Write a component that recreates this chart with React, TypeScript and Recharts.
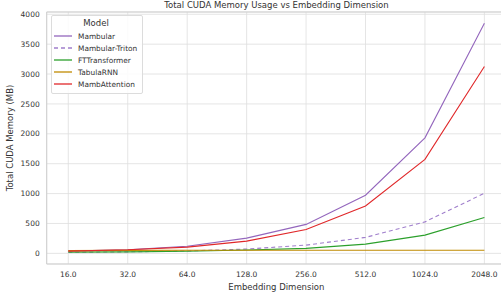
import React from "react";
import { CartesianGrid, Line, LineChart, ReferenceLine, XAxis, YAxis } from "recharts";

// values (MB)
const dims = ["16.0", "32.0", "64.0", "128.0", "256.0", "512.0", "1024.0", "2048.0"];
const mambular = [40, 60, 120, 255, 485, 972, 1933, 3850];
const mambularTriton = [18, 25, 40, 72, 138, 267, 527, 1005];
const ftTransformer = [20, 25, 35, 55, 83, 155, 305, 600];
const tabulaRnn = [45, 50, 52, 53, 53, 53, 53, 53];
const mambAttention = [38, 60, 105, 205, 400, 793, 1572, 3127];
const yTicks = [0, 500, 1000, 1500, 2000, 2500, 3000, 3500, 4000];

const Y_MIN = -178;
const Y_MAX = 4038;

const series = [
  { name: "Mambular", values: mambular, color: "#9467bd", dash: undefined },
  { name: "Mambular-Triton", values: mambularTriton, color: "#a07fcc", dash: "4 3" },
  { name: "FTTransformer", values: ftTransformer, color: "#2ca02c", dash: undefined },
  { name: "TabulaRNN", values: tabulaRnn, color: "#c08a00", dash: undefined },
  { name: "MambAttention", values: mambAttention, color: "#e0282a", dash: undefined },
];

const data = dims.map((d, i) => {
  const row: Record<string, string | number> = { dim: d };
  series.forEach((s) => (row[s.name] = s.values[i]));
  return row;
});

const font = "'DejaVu Sans', sans-serif";
const ink = "#333";
const tick = { fontSize: 7.5, fill: ink, fontFamily: font };

function LegendBox() {
  return (
    <div
      style={{
        position: "absolute",
        left: 51,
        top: 15,
        fontFamily: font,
        color: ink,
        background: "rgba(255,255,255,0.85)",
        border: "1px solid #dcdcdc",
        borderRadius: 2,
        padding: "1px 4px 3px 2px",
        width: 84,
      }}
    >
      <div style={{ textAlign: "center", fontSize: 8.5, lineHeight: "13px" }}>Model</div>
      {series.map((s) => (
        <div key={s.name} style={{ display: "flex", alignItems: "center", height: 12 }}>
          <svg width={18} height={6} style={{ marginRight: 6, flexShrink: 0 }}>
            <line x1={0} y1={3} x2={18} y2={3} stroke={s.color} strokeWidth={1.3} strokeDasharray={s.dash} />
          </svg>
          <span style={{ fontSize: 7.4, whiteSpace: "nowrap" }}>{s.name}</span>
        </div>
      ))}
    </div>
  );
}

export default function App() {
  return (
    <div style={{ position: "fixed", left: 0, top: 0, width: 501, height: 296, overflow: "hidden", background: "#fff" }}>
      <div
        style={{
          position: "absolute",
          left: 47,
          width: 459,
          top: 0,
          textAlign: "center",
          fontFamily: font,
          fontSize: 8.5,
          color: ink,
          lineHeight: "10px",
        }}
      >
        Total CUDA Memory Usage vs Embedding Dimension
      </div>
      <LineChart width={506} height={296} data={data} margin={{ top: 12, right: 0, bottom: 2, left: 0 }}>
        <CartesianGrid stroke="#dedede" strokeWidth={0.8} />
        <XAxis
          dataKey="dim"
          height={30}
          padding={{ left: 21.6, right: 21.6 }}
          tick={tick}
          tickSize={0}
          tickMargin={8}
          axisLine={{ stroke: "#cfcfcf" }}
          label={{ value: "Embedding Dimension", position: "insideBottom", offset: 4, style: { fontSize: 8.5, fill: ink, fontFamily: font } }}
        />
        <YAxis
          width={46.7}
          domain={[Y_MIN, Y_MAX]}
          ticks={yTicks}
          allowDataOverflow
          tick={tick}
          tickSize={0}
          tickMargin={7}
          axisLine={{ stroke: "#cfcfcf" }}
          label={{
            value: "Total CUDA Memory (MB)",
            angle: -90,
            position: "insideLeft",
            offset: 10,
            style: { fontSize: 8.5, fill: ink, fontFamily: font, textAnchor: "middle" },
          }}
        />
        <ReferenceLine y={Y_MAX} stroke="#cfcfcf" />
        {series.map((s) => (
          <Line
            key={s.name}
            dataKey={s.name}
            stroke={s.color}
            strokeWidth={1.1}
            strokeDasharray={s.dash}
            dot={false}
            isAnimationActive={false}
          />
        ))}
      </LineChart>
      <LegendBox />
    </div>
  );
}
